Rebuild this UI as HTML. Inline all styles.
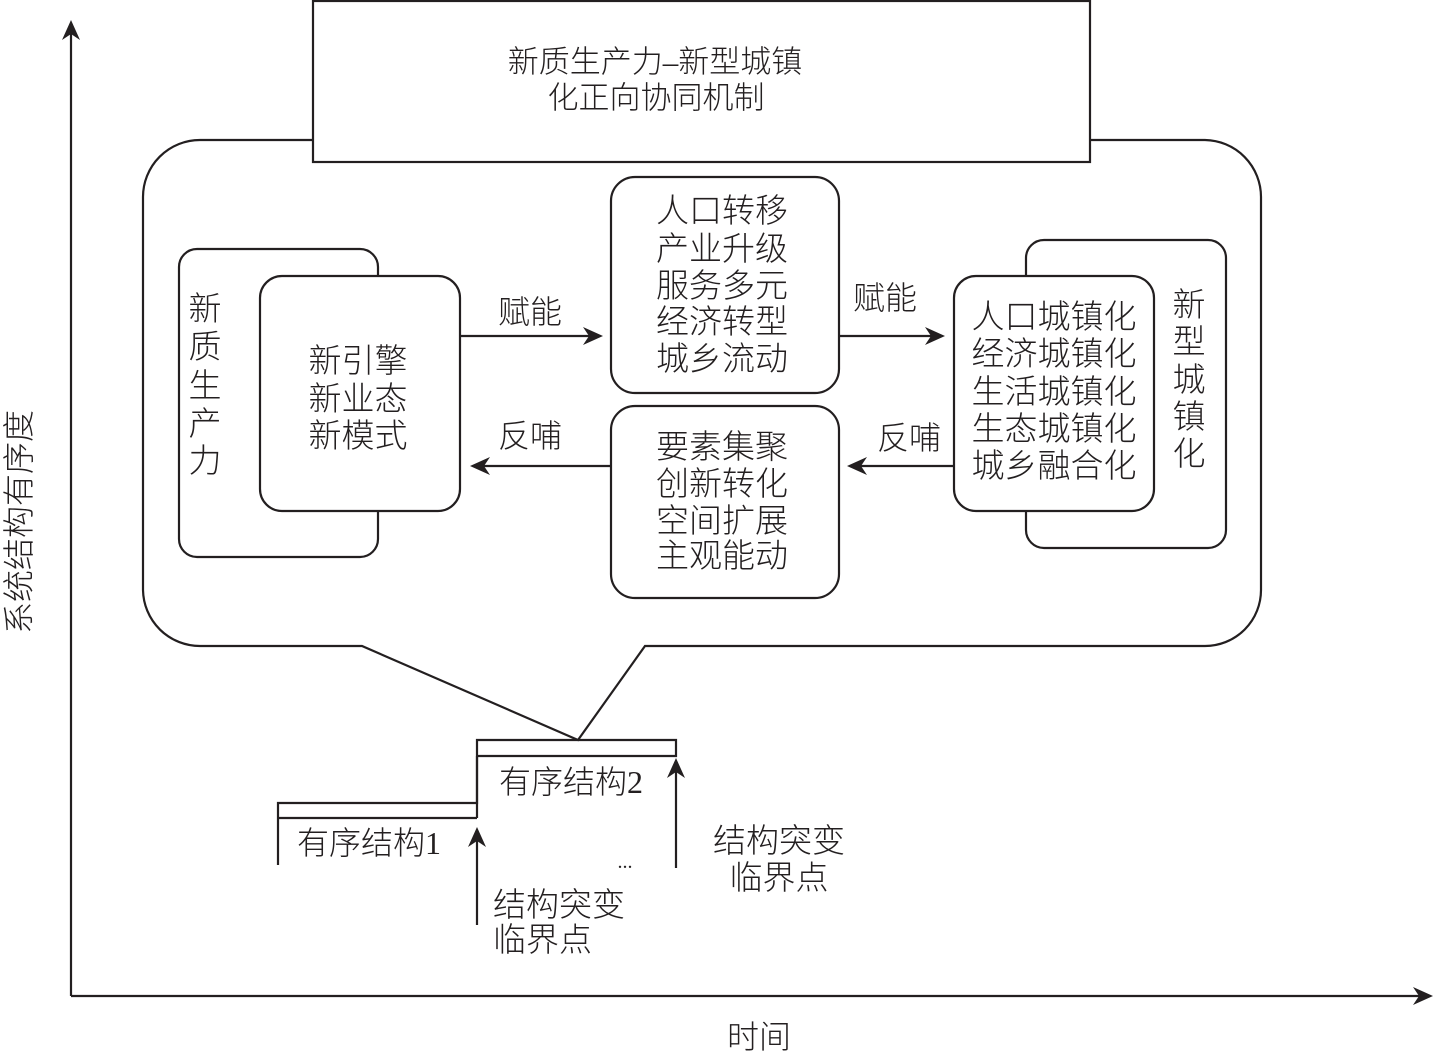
<!DOCTYPE html>
<html>
<head>
<meta charset="utf-8">
<style>
html,body{margin:0;padding:0;background:#fff;}
svg{display:block;}
text{font-family:"Liberation Serif","Noto Sans CJK SC",sans-serif;font-weight:300;fill:#231f20;}
</style>
</head>
<body>
<svg width="1433" height="1057" viewBox="0 0 1433 1057" xmlns="http://www.w3.org/2000/svg">
<g fill="none" stroke="#231f20" stroke-width="2.2" stroke-linejoin="miter">
  <!-- axes -->
  <line x1="71" y1="996" x2="71" y2="30"/>
  <line x1="71" y1="996" x2="1420" y2="996"/>
  <!-- callout -->
  <path d="M313,140 L200,140 A57,57 0 0 0 143,197 L143,590 A57,57 0 0 0 200,646 L362,646 L578,740 L645,646 L1205,646 A56,56 0 0 0 1261,590 L1261,197 A57,57 0 0 0 1205,140 L1090,140"/>
  <!-- top title box -->
  <rect x="313" y="1" width="777" height="161" fill="#fff"/>
  <!-- left back box -->
  <rect x="179" y="249" width="199" height="308" rx="18" ry="18"/>
  <!-- left front box -->
  <rect x="260" y="276" width="200" height="235" rx="22" ry="22" fill="#fff"/>
  <!-- right back box -->
  <rect x="1026" y="240" width="200" height="308" rx="18" ry="18"/>
  <!-- right front box -->
  <rect x="954" y="276" width="200" height="235" rx="22" ry="22" fill="#fff"/>
  <!-- middle boxes -->
  <rect x="611" y="177" width="228" height="216" rx="24" ry="24"/>
  <rect x="611" y="406" width="228" height="192" rx="24" ry="24"/>
  <!-- arrows lines -->
  <line x1="460" y1="336" x2="592" y2="336"/>
  <line x1="839" y1="336" x2="934" y2="336"/>
  <line x1="611" y1="466" x2="482" y2="466"/>
  <line x1="954" y1="466" x2="858" y2="466"/>
  <!-- ordered structure steps -->
  <polyline points="278,865 278,803 477,803 477,740 676,740 676,756 477,756"/>
  <line x1="278" y1="818" x2="477" y2="818"/>
  <line x1="477" y1="756" x2="477" y2="818"/>
  <!-- critical point arrows -->
  <line x1="477" y1="925" x2="477" y2="840"/>
  <line x1="676" y1="868" x2="676" y2="770"/>
</g>
<g fill="#231f20" stroke="none">
  <!-- axis arrowheads -->
  <polygon points="71,20 62,40 71,34 80,40"/>
  <polygon points="1433,996 1413,987 1419,996 1413,1005"/>
  <!-- flow arrowheads -->
  <polygon points="603,336 583,327 589,336 583,345"/>
  <polygon points="945,336 925,327 931,336 925,345"/>
  <polygon points="470,466 490,457 484,466 490,475"/>
  <polygon points="847,466 867,457 861,466 867,475"/>
  <!-- vertical arrowheads -->
  <polygon points="477,827 468,847 477,841 486,847"/>
  <polygon points="676,758 667,778 676,772 685,778"/>
</g>

<!-- title -->
<text x="655" y="62" font-size="31" text-anchor="middle" dominant-baseline="central">新质生产力–新型城镇</text>
<text x="656" y="98" font-size="31" text-anchor="middle" dominant-baseline="central">化正向协同机制</text>

<!-- left vertical label -->
<g font-size="33" text-anchor="middle" dominant-baseline="central">
  <text x="205" y="310" dominant-baseline="central">新</text>
  <text x="205" y="348" dominant-baseline="central">质</text>
  <text x="205" y="387" dominant-baseline="central">生</text>
  <text x="205" y="425" dominant-baseline="central">产</text>
  <text x="205" y="462" dominant-baseline="central">力</text>
</g>
<g font-size="33" text-anchor="middle">
  <text x="358" y="362" dominant-baseline="central">新引擎</text>
  <text x="358" y="400" dominant-baseline="central">新业态</text>
  <text x="358" y="437" dominant-baseline="central">新模式</text>
</g>

<!-- middle box text -->
<g font-size="33" text-anchor="middle">
  <text x="722" y="212" dominant-baseline="central">人口转移</text>
  <text x="722" y="250" dominant-baseline="central">产业升级</text>
  <text x="722" y="287" dominant-baseline="central">服务多元</text>
  <text x="722" y="323" dominant-baseline="central">经济转型</text>
  <text x="722" y="360" dominant-baseline="central">城乡流动</text>
  <text x="722" y="448" dominant-baseline="central">要素集聚</text>
  <text x="722" y="485" dominant-baseline="central">创新转化</text>
  <text x="722" y="522" dominant-baseline="central">空间扩展</text>
  <text x="722" y="557" dominant-baseline="central">主观能动</text>
</g>

<!-- arrow labels -->
<g font-size="32" text-anchor="middle">
  <text x="530" y="312" dominant-baseline="central">赋能</text>
  <text x="530" y="436" dominant-baseline="central">反哺</text>
  <text x="885" y="298" dominant-baseline="central">赋能</text>
  <text x="909" y="438" dominant-baseline="central">反哺</text>
</g>

<!-- right box text -->
<g font-size="33" text-anchor="middle">
  <text x="1054" y="318" dominant-baseline="central">人口城镇化</text>
  <text x="1054" y="355" dominant-baseline="central">经济城镇化</text>
  <text x="1054" y="393" dominant-baseline="central">生活城镇化</text>
  <text x="1054" y="430" dominant-baseline="central">生态城镇化</text>
  <text x="1054" y="467" dominant-baseline="central">城乡融合化</text>
</g>
<g font-size="33" text-anchor="middle">
  <text x="1189" y="306" dominant-baseline="central">新</text>
  <text x="1189" y="343" dominant-baseline="central">型</text>
  <text x="1189" y="381" dominant-baseline="central">城</text>
  <text x="1189" y="418" dominant-baseline="central">镇</text>
  <text x="1189" y="455" dominant-baseline="central">化</text>
</g>

<!-- bottom structure text -->
<text x="297" y="843" font-size="32" dominant-baseline="central">有序结构1</text>
<text x="499" y="782" font-size="32" dominant-baseline="central">有序结构2</text>
<text x="493" y="906" font-size="33" dominant-baseline="central">结构突变</text>
<text x="493" y="941" font-size="33" dominant-baseline="central">临界点</text>
<text x="779" y="842" font-size="33" text-anchor="middle" dominant-baseline="central">结构突变</text>
<text x="779" y="879" font-size="33" text-anchor="middle" dominant-baseline="central">临界点</text>
<text x="625" y="868" font-size="20" text-anchor="middle">...</text>

<!-- axis labels -->
<text x="759" y="1037" font-size="32" text-anchor="middle" dominant-baseline="central">时间</text>
<text x="0" y="0" font-size="32" text-anchor="middle" dominant-baseline="central" transform="translate(19,522) rotate(-90)">系统结构有序度</text>
</svg>
</body>
</html>
